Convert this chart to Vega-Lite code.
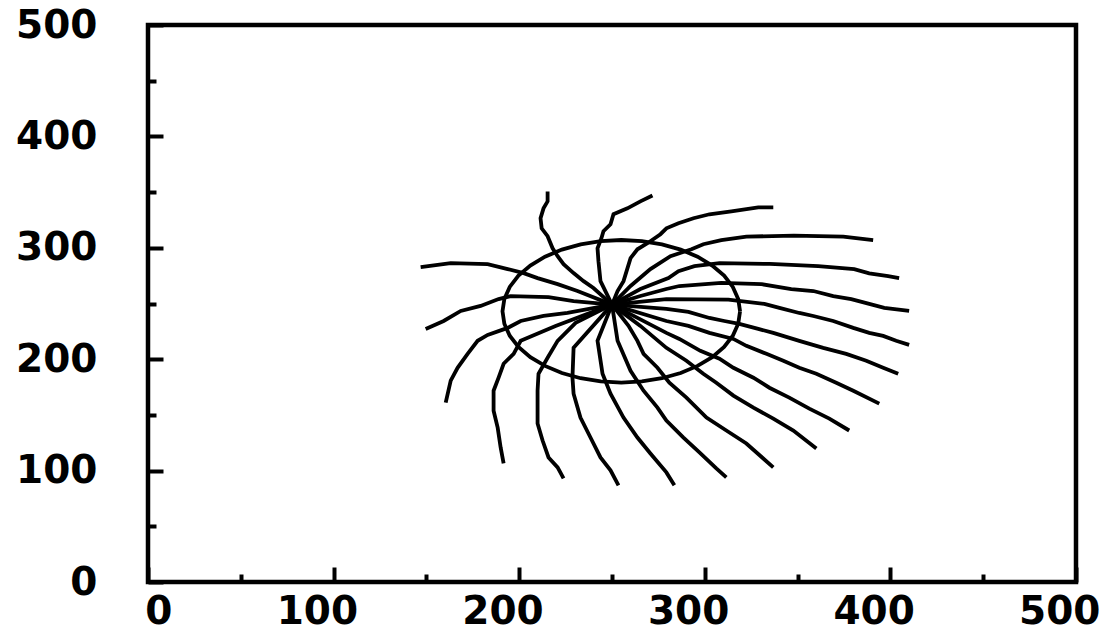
{
  "$schema": "https://vega.github.io/schema/vega-lite/v6.json",
  "width": 928,
  "height": 557,
  "autosize": {"type": "none"},
  "padding": {"left": 148, "top": 25, "right": 31, "bottom": 50},
  "background": "white",
  "config": {
    "view": {"stroke": "black", "strokeWidth": 4.5},
    "axis": {
      "domain": false,
      "grid": false,
      "tickColor": "black",
      "tickWidth": 4,
      "labelFont": "DejaVu Sans",
      "labelFontWeight": "bold",
      "labelFontSize": 39,
      "labelColor": "black",
      "title": null
    }
  },
  "datasets": {
    "curves": [
      {"c":"A","i":0,"x":250,"y":249},{"c":"A","i":1,"x":240.0,"y":263.9},{"c":"A","i":2,"x":234.7,"y":270.1},{"c":"A","i":3,"x":229.3,"y":277.3},{"c":"A","i":4,"x":223.9,"y":285.3},{"c":"A","i":5,"x":220.7,"y":292.5},{"c":"A","i":6,"x":218.0,"y":299.6},{"c":"A","i":7,"x":215.3,"y":310.4},{"c":"A","i":8,"x":212.1,"y":317.5},{"c":"A","i":9,"x":211.5,"y":326.5},{"c":"A","i":10,"x":213.1,"y":335.4},{"c":"A","i":11,"x":215.3,"y":341.7},{"c":"A","i":12,"x":215.3,"y":350.6},
      {"c":"B","i":0,"x":250,"y":249},{"c":"B","i":1,"x":243.8,"y":270.1},{"c":"B","i":2,"x":242.7,"y":288.0},{"c":"B","i":3,"x":242.2,"y":299.6},{"c":"B","i":4,"x":244.3,"y":308.6},{"c":"B","i":5,"x":245.4,"y":314.9},{"c":"B","i":6,"x":249.2,"y":321.1},{"c":"B","i":7,"x":250.8,"y":330.1},{"c":"B","i":8,"x":258.3,"y":335.4},{"c":"B","i":9,"x":265.3,"y":341.7},{"c":"B","i":10,"x":271.8,"y":347.0},
      {"c":"C","i":0,"x":250,"y":249},{"c":"C","i":1,"x":253.0,"y":261.2},{"c":"C","i":2,"x":256.2,"y":270.1},{"c":"C","i":3,"x":260.0,"y":290.7},{"c":"C","i":4,"x":263.7,"y":298.7},{"c":"C","i":5,"x":269.1,"y":304.1},{"c":"C","i":6,"x":276.1,"y":312.2},{"c":"C","i":7,"x":279.3,"y":317.5},{"c":"C","i":8,"x":285.8,"y":322.0},{"c":"C","i":9,"x":293.9,"y":326.5},{"c":"C","i":10,"x":302.5,"y":330.1},{"c":"C","i":11,"x":314.3,"y":332.7},{"c":"C","i":12,"x":328.8,"y":336.3},{"c":"C","i":13,"x":336.9,"y":336.3},
      {"c":"D","i":0,"x":250,"y":249},{"c":"D","i":1,"x":260.0,"y":265.7},{"c":"D","i":2,"x":270.7,"y":280.9},{"c":"D","i":3,"x":281.5,"y":292.5},{"c":"D","i":4,"x":292.8,"y":298.7},{"c":"D","i":5,"x":299.2,"y":303.2},{"c":"D","i":6,"x":308.9,"y":306.8},{"c":"D","i":7,"x":322.4,"y":310.0},{"c":"D","i":8,"x":348.0,"y":311.0},{"c":"D","i":9,"x":374.6,"y":310.0},{"c":"D","i":10,"x":390.7,"y":306.8},
      {"c":"E","i":0,"x":250,"y":249},{"c":"E","i":1,"x":265.3,"y":263.0},{"c":"E","i":2,"x":280.4,"y":272.8},{"c":"E","i":3,"x":285.8,"y":279.0},{"c":"E","i":4,"x":294.4,"y":283.5},{"c":"E","i":5,"x":307.9,"y":286.2},{"c":"E","i":6,"x":335.0,"y":285.5},{"c":"E","i":7,"x":361.1,"y":283.5},{"c":"E","i":8,"x":380.5,"y":280.9},{"c":"E","i":9,"x":388.6,"y":277.0},{"c":"E","i":10,"x":398.8,"y":274.6},{"c":"E","i":11,"x":404.7,"y":272.8},
      {"c":"F","i":0,"x":250,"y":249},{"c":"F","i":1,"x":265.3,"y":256.7},{"c":"F","i":2,"x":279.3,"y":263.0},{"c":"F","i":3,"x":286.3,"y":265.7},{"c":"F","i":4,"x":308.9,"y":268.5},{"c":"F","i":5,"x":330.5,"y":267.4},{"c":"F","i":6,"x":346.6,"y":263.0},{"c":"F","i":7,"x":358.5,"y":261.2},{"c":"F","i":8,"x":369.2,"y":256.7},{"c":"F","i":9,"x":378.9,"y":254.0},{"c":"F","i":10,"x":388.6,"y":249.6},{"c":"F","i":11,"x":396.7,"y":246.0},{"c":"F","i":12,"x":410.1,"y":243.3},
      {"c":"G","i":0,"x":250,"y":249},{"c":"G","i":1,"x":279.3,"y":254.0},{"c":"G","i":2,"x":312.7,"y":253.5},{"c":"G","i":3,"x":332.1,"y":249.6},{"c":"G","i":4,"x":340.2,"y":246.0},{"c":"G","i":5,"x":350.9,"y":241.5},{"c":"G","i":6,"x":358.5,"y":238.8},{"c":"G","i":7,"x":369.2,"y":234.3},{"c":"G","i":8,"x":380.0,"y":228.1},{"c":"G","i":9,"x":388.6,"y":223.6},{"c":"G","i":10,"x":396.1,"y":220.9},{"c":"G","i":11,"x":403.1,"y":216.5},{"c":"G","i":12,"x":410.1,"y":212.9},
      {"c":"H","i":0,"x":250,"y":249},{"c":"H","i":1,"x":279.3,"y":245.1},{"c":"H","i":2,"x":291.2,"y":242.4},{"c":"H","i":3,"x":302.5,"y":237.0},{"c":"H","i":4,"x":310.5,"y":234.3},{"c":"H","i":5,"x":318.6,"y":231.7},{"c":"H","i":6,"x":328.8,"y":227.2},{"c":"H","i":7,"x":336.9,"y":223.6},{"c":"H","i":8,"x":350.9,"y":216.5},{"c":"H","i":9,"x":363.8,"y":210.2},{"c":"H","i":10,"x":376.2,"y":204.8},{"c":"H","i":11,"x":387.0,"y":198.6},{"c":"H","i":12,"x":396.1,"y":192.3},{"c":"H","i":13,"x":404.2,"y":186.9},
      {"c":"I","i":0,"x":250,"y":249},{"c":"I","i":1,"x":279.3,"y":234.3},{"c":"I","i":2,"x":291.2,"y":229.9},{"c":"I","i":3,"x":302.5,"y":223.6},{"c":"I","i":4,"x":315.4,"y":218.2},{"c":"I","i":5,"x":322.4,"y":212.0},{"c":"I","i":6,"x":333.2,"y":204.8},{"c":"I","i":7,"x":342.3,"y":198.6},{"c":"I","i":8,"x":350.9,"y":192.3},{"c":"I","i":9,"x":360.1,"y":186.9},{"c":"I","i":10,"x":370.8,"y":178.9},{"c":"I","i":11,"x":380.0,"y":171.7},{"c":"I","i":12,"x":394.0,"y":160.1},
      {"c":"J","i":0,"x":250,"y":249},{"c":"J","i":1,"x":279.3,"y":223.6},{"c":"J","i":2,"x":286.3,"y":218.2},{"c":"J","i":3,"x":297.6,"y":207.5},{"c":"J","i":4,"x":307.9,"y":200.4},{"c":"J","i":5,"x":315.4,"y":192.3},{"c":"J","i":6,"x":326.2,"y":183.4},{"c":"J","i":7,"x":334.8,"y":174.4},{"c":"J","i":8,"x":345.5,"y":165.5},{"c":"J","i":9,"x":356.3,"y":155.6},{"c":"J","i":10,"x":367.1,"y":146.7},{"c":"J","i":11,"x":377.8,"y":136.0},
      {"c":"K","i":0,"x":250,"y":249},{"c":"K","i":1,"x":265.3,"y":229.9},{"c":"K","i":2,"x":279.3,"y":210.2},{"c":"K","i":3,"x":290.1,"y":198.6},{"c":"K","i":4,"x":299.2,"y":186.9},{"c":"K","i":5,"x":306.2,"y":178.9},{"c":"K","i":6,"x":315.4,"y":167.3},{"c":"K","i":7,"x":326.2,"y":156.5},{"c":"K","i":8,"x":336.9,"y":146.7},{"c":"K","i":9,"x":347.7,"y":136.0},{"c":"K","i":10,"x":360.1,"y":119.9},
      {"c":"L","i":0,"x":250,"y":249},{"c":"L","i":1,"x":258.9,"y":229.9},{"c":"L","i":2,"x":263.7,"y":216.5},{"c":"L","i":3,"x":267.0,"y":204.8},{"c":"L","i":4,"x":274.5,"y":192.3},{"c":"L","i":5,"x":280.9,"y":178.9},{"c":"L","i":6,"x":290.1,"y":165.5},{"c":"L","i":7,"x":300.9,"y":147.6},{"c":"L","i":8,"x":311.6,"y":136.0},{"c":"L","i":9,"x":322.4,"y":124.3},{"c":"L","i":10,"x":336.9,"y":102.9},
      {"c":"M","i":0,"x":250,"y":249},{"c":"M","i":1,"x":253.0,"y":216.5},{"c":"M","i":2,"x":260.0,"y":189.6},{"c":"M","i":3,"x":267.0,"y":171.7},{"c":"M","i":4,"x":274.5,"y":156.5},{"c":"M","i":5,"x":279.3,"y":144.9},{"c":"M","i":6,"x":288.5,"y":129.7},{"c":"M","i":7,"x":297.1,"y":116.3},{"c":"M","i":8,"x":306.2,"y":102.0},{"c":"M","i":9,"x":311.6,"y":93.9},
      {"c":"N","i":0,"x":250,"y":249},{"c":"N","i":1,"x":242.2,"y":216.5},{"c":"N","i":2,"x":244.9,"y":186.9},{"c":"N","i":3,"x":249.2,"y":169.0},{"c":"N","i":4,"x":256.2,"y":147.6},{"c":"N","i":5,"x":263.7,"y":129.7},{"c":"N","i":6,"x":270.7,"y":115.4},{"c":"N","i":7,"x":279.3,"y":98.4},{"c":"N","i":8,"x":283.6,"y":86.8},
      {"c":"O","i":0,"x":250,"y":249},{"c":"O","i":1,"x":229.3,"y":210.2},{"c":"O","i":2,"x":228.7,"y":183.4},{"c":"O","i":3,"x":229.3,"y":169.0},{"c":"O","i":4,"x":233.0,"y":147.6},{"c":"O","i":5,"x":238.4,"y":129.7},{"c":"O","i":6,"x":243.8,"y":111.8},{"c":"O","i":7,"x":249.2,"y":100.2},{"c":"O","i":8,"x":253.5,"y":86.8},
      {"c":"P","i":0,"x":250,"y":249},{"c":"P","i":1,"x":230.4,"y":232.6},{"c":"P","i":2,"x":220.7,"y":216.5},{"c":"P","i":3,"x":215.3,"y":201.3},{"c":"P","i":4,"x":210.4,"y":186.9},{"c":"P","i":5,"x":209.9,"y":171.7},{"c":"P","i":6,"x":209.9,"y":142.2},{"c":"P","i":7,"x":212.6,"y":127.0},{"c":"P","i":8,"x":215.8,"y":111.8},{"c":"P","i":9,"x":220.7,"y":102.9},{"c":"P","i":10,"x":223.9,"y":93.0},
      {"c":"Q","i":0,"x":250,"y":249},{"c":"Q","i":1,"x":219.6,"y":229.9},{"c":"Q","i":2,"x":200.8,"y":216.5},{"c":"Q","i":3,"x":197.0,"y":204.8},{"c":"Q","i":4,"x":191.6,"y":195.9},{"c":"Q","i":5,"x":188.9,"y":183.4},{"c":"Q","i":6,"x":186.2,"y":171.7},{"c":"Q","i":7,"x":186.2,"y":153.8},{"c":"Q","i":8,"x":188.4,"y":138.6},{"c":"Q","i":9,"x":190.0,"y":120.8},{"c":"Q","i":10,"x":191.6,"y":106.4},
      {"c":"R","i":0,"x":250,"y":249},{"c":"R","i":1,"x":226.0,"y":241.5},{"c":"R","i":2,"x":213.1,"y":238.8},{"c":"R","i":3,"x":200.8,"y":234.3},{"c":"R","i":4,"x":193.8,"y":228.1},{"c":"R","i":5,"x":183.0,"y":221.8},{"c":"R","i":6,"x":177.6,"y":216.5},{"c":"R","i":7,"x":172.2,"y":204.8},{"c":"R","i":8,"x":166.8,"y":192.3},{"c":"R","i":9,"x":163.1,"y":180.7},{"c":"R","i":10,"x":160.4,"y":161.0},
      {"c":"S","i":0,"x":250,"y":249},{"c":"S","i":1,"x":229.3,"y":252.2},{"c":"S","i":2,"x":215.8,"y":255.8},{"c":"S","i":3,"x":195.4,"y":256.7},{"c":"S","i":4,"x":188.9,"y":254.0},{"c":"S","i":5,"x":179.2,"y":247.8},{"c":"S","i":6,"x":168.5,"y":243.3},{"c":"S","i":7,"x":159.3,"y":234.3},{"c":"S","i":8,"x":149.6,"y":227.2},
      {"c":"T","i":0,"x":250,"y":249},{"c":"T","i":1,"x":231.4,"y":261.2},{"c":"T","i":2,"x":220.7,"y":267.4},{"c":"T","i":3,"x":209.9,"y":272.8},{"c":"T","i":4,"x":202.4,"y":277.3},{"c":"T","i":5,"x":193.8,"y":280.9},{"c":"T","i":6,"x":183.0,"y":285.3},{"c":"T","i":7,"x":163.1,"y":286.2},{"c":"T","i":8,"x":146.9,"y":282.6}
    ],
    "ring": [
      {"i":0,"x":319.0,"y":243.0},{"i":1,"x":318.0,"y":254.1},{"i":2,"x":315.1,"y":264.9},{"i":3,"x":310.4,"y":275.0},{"i":4,"x":304.0,"y":284.1},{"i":5,"x":296.1,"y":292.0},{"i":6,"x":287.0,"y":298.4},{"i":7,"x":276.9,"y":303.1},{"i":8,"x":266.1,"y":306.0},{"i":9,"x":255.0,"y":307.0},{"i":10,"x":243.9,"y":306.0},{"i":11,"x":233.1,"y":303.1},{"i":12,"x":223.0,"y":298.4},{"i":13,"x":213.9,"y":292.0},{"i":14,"x":206.0,"y":284.1},{"i":15,"x":199.6,"y":275.0},{"i":16,"x":194.9,"y":264.9},{"i":17,"x":192.0,"y":254.1},{"i":18,"x":191.0,"y":243.0},{"i":19,"x":192.0,"y":231.9},{"i":20,"x":194.9,"y":221.1},{"i":21,"x":199.6,"y":211.0},{"i":22,"x":206.0,"y":201.9},{"i":23,"x":213.9,"y":194.0},{"i":24,"x":223.0,"y":187.6},{"i":25,"x":233.1,"y":182.9},{"i":26,"x":243.9,"y":180.0},{"i":27,"x":255.0,"y":179.0},{"i":28,"x":266.1,"y":180.0},{"i":29,"x":276.9,"y":182.9},{"i":30,"x":287.0,"y":187.6},{"i":31,"x":296.1,"y":194.0},{"i":32,"x":304.0,"y":201.9},{"i":33,"x":310.4,"y":211.0},{"i":34,"x":315.1,"y":221.1},{"i":35,"x":318.0,"y":231.9},{"i":36,"x":319.0,"y":243.0}
    ]
  },
  "layer": [
    {
      "data": {"name": "curves"},
      "mark": {"type": "line", "color": "black", "strokeWidth": 3.8, "interpolate": "linear"},
      "encoding": {
        "x": {"field": "x", "type": "quantitative", "scale": {"domain": [0, 500], "nice": false, "zero": false},
              "axis": {"orient": "bottom", "values": [0, 100, 200, 300, 400, 500], "tickSize": -15, "labelPadding": 25, "labelAlign": "right", "labelOffset": 24}},
        "y": {"field": "y", "type": "quantitative", "scale": {"domain": [0, 500], "nice": false, "zero": false},
              "axis": {"orient": "left", "values": [0, 100, 200, 300, 400, 500], "tickSize": -15, "labelPadding": 66, "labelBaseline": "middle"}},
        "detail": {"field": "c"},
        "order": {"field": "i", "type": "quantitative"}
      }
    },
    {
      "data": {"name": "ring"},
      "mark": {"type": "line", "color": "black", "strokeWidth": 3.8, "interpolate": "linear"},
      "encoding": {
        "x": {"field": "x", "type": "quantitative", "scale": {"domain": [0, 500], "nice": false, "zero": false},
              "axis": {"orient": "bottom", "values": [50, 150, 250, 350, 450], "tickSize": -8, "labels": false}},
        "y": {"field": "y", "type": "quantitative", "scale": {"domain": [0, 500], "nice": false, "zero": false},
              "axis": {"orient": "left", "values": [50, 150, 250, 350, 450], "tickSize": -8, "labels": false}},
        "order": {"field": "i", "type": "quantitative"}
      }
    }
  ],
  "resolve": {"axis": {"x": "independent", "y": "independent"}}
}
